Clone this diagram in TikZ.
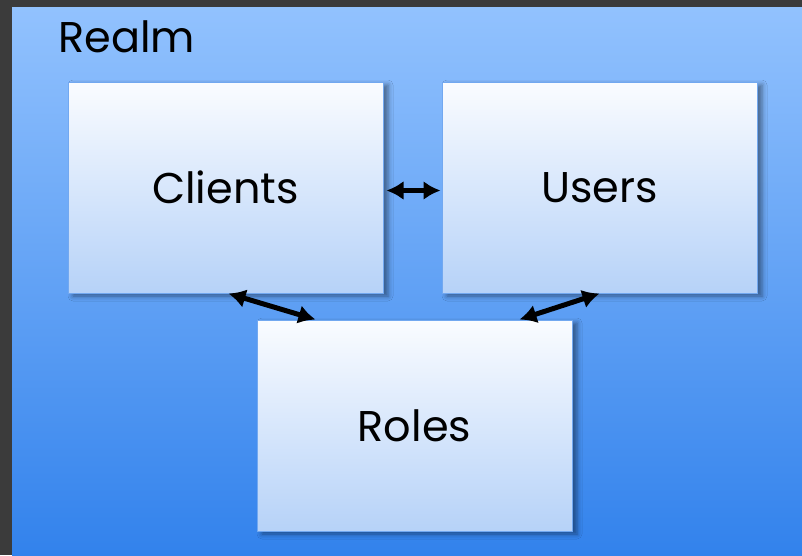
\documentclass[tikz,border=0pt]{standalone}
\usepackage{fontspec}
\setmainfont{Poppins}
\usetikzlibrary{shadows.blur,arrows.meta,calc}
\definecolor{frame}{HTML}{3B3B3B}
\definecolor{realmtop}{HTML}{92C2FE}
\definecolor{realmbot}{HTML}{3282EC}
\definecolor{boxtop}{HTML}{FAFCFF}
\definecolor{boxbot}{HTML}{B6D2F8}
\definecolor{boxline}{HTML}{72A8F0}
\tikzset{
  label font/.style={font=\fontsize{43}{50}\selectfont},
  entity/.style={draw=boxline, line width=1pt, top color=boxtop, bottom color=boxbot,
    minimum width=315pt, minimum height=211pt, inner sep=0pt, label font,
    blur shadow={shadow xshift=5pt, shadow yshift=-3pt, shadow opacity=45, shadow blur radius=5pt}},
  link/.style={line width=5pt, {Latex[length=17pt,width=19pt]}-{Latex[length=17pt,width=19pt]}}
}
\begin{document}
\begin{tikzpicture}[x=1pt,y=-1pt]
  % page frame and realm area
  \fill[frame] (0,0) rectangle (802,555);
  \shade[top color=realmtop, bottom color=realmbot] (12,7) rectangle (802,555);
  \useasboundingbox (0,0) rectangle (802,555);
  \node[anchor=base west, label font, inner sep=0pt] (realm) at (58,52) {Realm};
  % entities
  \node[entity] (clients) at (225.5,187.5) {Clients};
  \node[entity] (users) at (599.5,187.5) {Users};
  \node[entity] (roles) at (414.5,425.5) {Roles};
  % relations
  \draw[link] ($(clients.east)+(3,3)$) -- ($(users.west)+(-1,3)$);
  \draw[link] ($(clients.south)+(3,0)$) -- ($(roles.north west)+(59,0)$);
  \draw[link] (users.south) -- ($(roles.north)+(105,0)$);
\end{tikzpicture}
\end{document}
